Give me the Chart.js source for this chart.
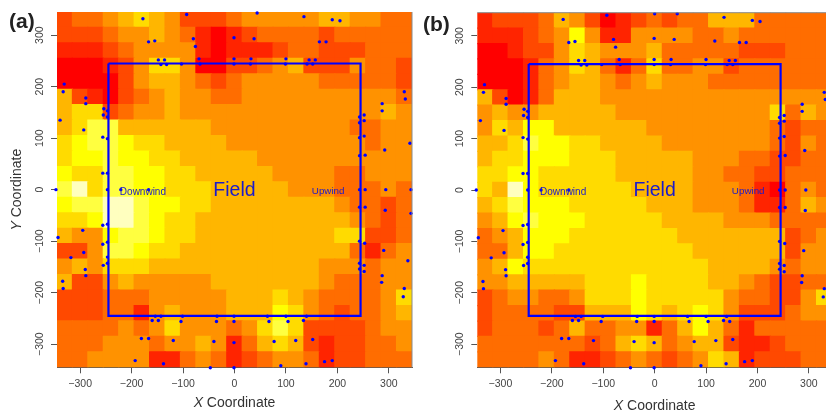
<!DOCTYPE html>
<html>
<head>
<meta charset="utf-8">
<title>Field maps</title>
<script src="https://cdn.jsdelivr.net/npm/chart.js@4/dist/chart.umd.min.js"></script>
<style>
  html, body { margin: 0; padding: 0; background: #fff; width: 826px; height: 411px; overflow: hidden; }
  canvas { position: absolute; top: 0; }
  #panelA { left: 0; }
  #panelB { left: 420px; }
</style>
</head>
<body>
<canvas id="panelA" width="416" height="411"></canvas>
<canvas id="panelB" width="416" height="411"></canvas>
<script>
// heat.colors(10), index = level in the grids below
const heatColors = ['#FF0000', '#FF2400', '#FF4900', '#FF6D00', '#FF9200', '#FFB600', '#FFDB00', '#FFFF00', '#FFFF40', '#FFFFBF'];
const tickValues = [-300, -200, -100, 0, 100, 200, 300];
const colCenters = [-330, -300, -270, -240, -210, -180, -150, -120, -90, -60, -30, 0, 30, 60, 90, 120, 150, 180, 210, 240, 270, 300, 330];
const rowCenters = [330, 300, 270, 240, 210, 180, 150, 120, 90, 60, 30, 0, -30, -60, -90, -120, -150, -180, -210, -240, -270, -300, -330];

const gridA = [
  [2,3,3,4,5,6,5,4,2,2,2,3,4,4,4,4,4,5,5,4,4,3,3],
  [2,2,2,3,4,4,5,4,3,1,0,1,2,3,3,3,3,2,3,3,3,3,3],
  [1,1,1,2,3,4,4,4,4,1,0,1,1,1,2,3,3,2,2,2,3,3,3],
  [0,0,0,1,2,4,6,6,4,0,0,2,2,3,4,5,2,2,2,4,3,3,2],
  [0,0,0,0,2,4,5,5,4,3,2,3,4,4,4,4,4,3,3,3,3,3,2],
  [5,2,1,0,2,3,4,5,4,4,3,3,4,4,4,4,4,4,4,4,4,4,3],
  [5,6,6,2,3,4,4,5,4,4,4,4,4,4,4,4,4,4,4,4,4,5,4],
  [5,6,8,8,5,5,5,5,5,5,4,4,4,4,4,4,4,4,4,3,3,4,4],
  [6,7,8,8,7,6,6,5,5,5,5,4,4,4,4,4,4,4,4,4,3,4,4],
  [6,7,7,8,7,7,6,6,5,5,5,5,5,4,4,4,4,4,4,4,4,4,4],
  [7,6,6,8,8,7,7,6,6,5,5,5,5,5,4,4,4,4,3,3,4,4,4],
  [8,9,6,8,8,7,7,6,6,6,5,5,5,5,5,4,4,4,3,3,3,4,3],
  [7,8,8,9,9,8,7,7,6,6,5,5,5,5,5,5,5,5,4,3,3,2,3],
  [6,6,7,9,9,8,7,6,6,5,5,5,5,5,5,5,5,5,5,4,3,2,3],
  [5,4,4,7,8,8,7,6,6,5,5,5,5,5,5,5,5,5,6,6,2,2,3],
  [2,2,4,8,8,7,6,6,5,5,5,5,5,5,5,5,5,5,5,3,1,3,4],
  [4,5,4,6,6,6,5,5,5,5,5,5,5,5,5,5,5,4,4,4,3,4,4],
  [5,2,2,4,5,4,4,4,4,4,5,5,5,5,5,5,5,4,3,3,3,4,4],
  [2,2,2,3,3,3,4,4,4,4,4,5,5,5,6,5,4,3,3,3,3,4,6],
  [2,2,2,3,3,1,4,5,4,4,4,5,5,5,7,6,4,3,2,3,3,4,5],
  [3,3,3,3,4,3,4,6,4,4,4,3,4,6,8,6,2,2,2,2,3,4,4],
  [3,3,3,4,4,4,3,4,4,5,4,1,3,5,6,5,2,1,2,2,3,3,4],
  [3,3,4,4,4,4,1,1,3,4,3,1,2,3,4,4,3,1,2,2,3,3,3]
];

const gridB = [
  [1,2,2,2,3,5,4,2,0,1,2,3,2,3,3,5,5,5,3,3,3,3,3],
  [1,1,1,2,3,4,7,4,1,1,4,4,4,4,3,3,4,3,3,3,3,3,3],
  [0,0,1,2,2,4,6,5,4,4,4,5,3,3,3,3,3,2,2,2,3,3,3],
  [0,0,0,1,3,4,6,5,3,1,3,6,3,3,4,4,2,3,3,3,3,3,3],
  [0,0,0,1,3,4,5,5,4,3,4,5,4,4,4,3,3,3,3,3,3,3,3],
  [5,2,0,1,3,5,5,5,4,4,4,4,4,4,4,4,4,4,4,4,4,4,4],
  [4,5,4,4,5,5,5,5,5,4,4,4,4,4,4,4,4,4,4,6,3,5,4],
  [4,6,5,7,7,5,5,5,5,5,5,4,4,4,4,4,4,4,4,3,2,3,3],
  [5,5,6,8,7,7,6,6,5,5,5,5,4,4,4,4,4,4,4,3,2,4,3],
  [5,6,6,7,7,7,6,6,6,5,5,5,5,5,4,4,4,3,3,2,2,3,3],
  [6,6,7,7,6,6,6,6,6,5,5,5,5,5,4,4,3,3,2,2,3,3,3],
  [6,5,9,7,6,6,6,6,6,6,5,5,5,5,4,4,4,3,1,0,3,4,3],
  [5,6,8,7,7,7,6,6,6,6,6,5,5,5,4,4,4,3,1,1,3,5,4],
  [4,5,7,8,7,7,7,6,6,6,6,6,5,5,5,5,4,4,4,3,3,3,3],
  [3,4,5,7,7,7,6,6,6,6,6,6,6,5,5,5,5,5,5,5,2,3,4],
  [3,3,5,7,7,6,6,6,6,6,6,6,6,6,5,5,5,5,5,5,2,4,4],
  [4,5,7,6,6,6,6,6,6,6,6,6,6,6,6,5,5,5,5,4,3,4,4],
  [4,4,5,5,5,5,5,6,6,6,7,6,6,6,6,5,5,4,3,2,2,3,3],
  [2,3,4,4,3,3,4,6,6,6,7,6,6,6,6,6,4,3,3,2,2,4,6],
  [2,3,3,3,3,2,2,5,5,5,7,6,5,6,7,6,4,2,2,2,3,4,4],
  [2,3,3,3,2,3,5,3,3,4,4,1,3,5,7,5,3,1,3,3,3,3,3],
  [3,3,3,3,3,3,3,2,3,5,6,5,3,4,5,5,2,1,1,2,3,3,3],
  [3,3,3,3,4,3,1,1,2,3,4,3,2,3,4,6,5,1,2,2,2,3,3]
];

// sampler locations (same ring in both panels)
const sampleX = [-178,-93,44,135,190,205,-167,-155,-80,-76,-1,38,165,178,-148,-136,-69,-1,32,100,145,157,-143,-132,-103,-67,-1,31,99,141,152,
  -331,-333,-289,-289,-339,-293,-254,-247,-255,-247,-256,-247,-256,-247,-347,-247,-221,-167,
  243,252,243,252,243,252,243,254,287,287,330,332,292,341,243,254,294,343,
  -343,-295,-256,-247,243,254,293,343,-256,-247,-293,-318,-247,-255,-247,-290,-289,-334,-333,
  243,253,290,337,243,252,243,252,287,286,330,328,
  -154,-143,-101,-34,-1,64,100,140,-160,-148,-104,-35,-1,67,104,134,
  -181,-167,-119,-40,-1,77,119,152,-193,-138,-47,-1,90,139,175,190];
const sampleY = [332,340,343,336,330,328,287,289,293,278,295,293,287,287,252,252,254,254,254,254,252,252,243,243,244,244,244,244,244,244,244,
  205,190,178,167,135,116,157,153,145,141,102,99,32,32,0,0,0,0,
  141,145,130,134,101,104,66,67,167,153,190,176,77,90,0,0,0,0,
  -93,-79,-69,-67,-34,-34,-40,-46,-106,-102,-122,-132,-131,-147,-143,-155,-167,-178,-192,
  -100,-104,-118,-138,-143,-147,-154,-159,-167,-180,-192,-208,
  -246,-246,-246,-246,-246,-246,-246,-246,-254,-254,-256,-256,-256,-256,-256,-254,
  -289,-289,-293,-295,-297,-295,-293,-291,-332,-338,-346,-346,-342,-338,-334,-332];
// only seen in panel b
const extraXB = [0, 117, 146];
const extraYB = [343, 290, -256];

const fieldX = [-245, 245, 245, -245, -245];
const fieldY = [245, 245, -245, -245, 245];

const notes = [
  { text: 'Field', x: 0, y: -1, size: 19.5 },
  { text: 'Downwind', x: -178, y: -5, size: 10 },
  { text: 'Upwind', x: 182, y: -3, size: 9.8 }
];

const BLUE = '#0000FF';
const FONT = '"Liberation Sans", Arial, sans-serif';

const panelText = {
  id: 'panelText',
  afterDraw(chart, args, opts) {
    const { ctx, scales } = chart;
    ctx.save();
    // frame bits
    ctx.strokeStyle = '#8a8a8a';
    ctx.lineWidth = 1;
    const a = chart.chartArea;
    opts.frame.forEach(side => {
      ctx.beginPath();
      if (side === 'top') { ctx.moveTo(a.left, a.top); ctx.lineTo(a.right, a.top); }
      if (side === 'right') { ctx.moveTo(a.right, a.top); ctx.lineTo(a.right, a.bottom); }
      ctx.stroke();
    });
    // Field / Downwind / Upwind
    ctx.fillStyle = '#1A1ACC';
    ctx.textAlign = 'center';
    ctx.textBaseline = 'middle';
    notes.forEach(n => {
      ctx.font = n.size + 'px ' + FONT;
      ctx.fillText(n.text, scales.x.getPixelForValue(n.x), scales.y.getPixelForValue(n.y));
    });
    // panel letter
    ctx.fillStyle = '#222';
    ctx.textAlign = 'left';
    ctx.font = 'bold 21px ' + FONT;
    ctx.fillText(opts.letter, opts.letterX, opts.letterY);
    // axis titles, X/Y in italics
    const cx = scales.x.getPixelForValue(0);
    ctx.font = 'italic 14px ' + FONT;
    const w1 = ctx.measureText('X').width;
    ctx.font = '14px ' + FONT;
    const w2 = ctx.measureText(' Coordinate').width;
    ctx.textAlign = 'left';
    ctx.fillStyle = '#333';
    ctx.font = 'italic 14px ' + FONT;
    ctx.fillText('X', cx - (w1 + w2) / 2, opts.xTitleY);
    ctx.font = '14px ' + FONT;
    ctx.fillText(' Coordinate', cx - (w1 + w2) / 2 + w1, opts.xTitleY);
    if (opts.yTitle) {
      ctx.translate(opts.yTitleX, scales.y.getPixelForValue(0));
      ctx.rotate(-Math.PI / 2);
      ctx.font = 'italic 14px ' + FONT;
      ctx.fillText('Y', -(w1 + w2) / 2, 0);
      ctx.font = '14px ' + FONT;
      ctx.fillText(' Coordinate', -(w1 + w2) / 2 + w1, 0);
    }
    ctx.restore();
  }
};

function cellsFrom(grid) {
  const cells = [];
  grid.forEach((row, r) => {
    row.forEach((level, c) => {
      cells.push({ x: colCenters[c], y: [rowCenters[r] - 15, rowCenters[r] + 15], level: level });
    });
  });
  return cells;
}

function zip(xs, ys) {
  return xs.map((x, i) => ({ x: x, y: ys[i] }));
}

function axisOpts(size, yAxis) {
  return {
    type: 'linear',
    min: -345,
    max: 345,
    offset: false,
    afterBuildTicks(scale) { scale.ticks = tickValues.map(v => ({ value: v })); },
    afterFit(scale) {
      if (yAxis) scale.width = size; else scale.height = size;
    },
    border: { color: yAxis ? 'rgba(0,0,0,0)' : '#555' },
    grid: { offset: false, drawOnChartArea: false, color: '#555', tickLength: 6, tickWidth: 1 },
    ticks: {
      color: '#444',
      font: { family: FONT, size: 10.5 },
      padding: yAxis ? -1 : 5,
      autoSkip: false,
      minRotation: yAxis ? 90 : 0,
      maxRotation: yAxis ? 90 : 0,
      crossAlign: yAxis ? 'center' : 'near',
      callback: v => String(v).replace('-', '\u2212')
    }
  };
}

function makePanel(id, grid, points, cfg) {
  new Chart(document.getElementById(id), {
    type: 'bar',
    data: {
      datasets: [
        {
          type: 'line',
          data: zip(fieldX, fieldY),
          borderColor: BLUE,
          borderWidth: 2.2,
          pointRadius: 0,
          tension: 0,
          fill: false,
          order: 1
        },
        {
          type: 'scatter',
          data: points,
          backgroundColor: BLUE,
          borderWidth: 0,
          pointRadius: 1.7,
          clip: false,
          order: 2
        },
        {
          type: 'bar',
          data: cellsFrom(grid),
          backgroundColor: c => heatColors[c.raw ? c.raw.level : 0],
          borderWidth: 0,
          barPercentage: 1,
          categoryPercentage: 1,
          inflateAmount: 0.6,
          order: 3
        }
      ]
    },
    options: {
      responsive: false,
      animation: false,
      events: [],
      layout: { padding: { left: 0, top: cfg.top, right: cfg.right, bottom: 0 } },
      scales: { x: axisOpts(cfg.xAxisH, false), y: axisOpts(cfg.yAxisW, true) },
      plugins: {
        legend: { display: false },
        tooltip: { enabled: false },
        panelText: cfg.text
      }
    },
    plugins: [panelText]
  });
}

makePanel('panelA', gridA, zip(sampleX, sampleY), {
  top: 12, right: 3.3, xAxisH: 43.7, yAxisW: 57,
  text: { letter: '(a)', letterX: 9, letterY: 22, xTitleY: 403, yTitle: true, yTitleX: 17, frame: ['right'] }
});

makePanel('panelB', gridB, zip(sampleX.concat(extraXB), sampleY.concat(extraYB)), {
  top: 12.7, right: 3, xAxisH: 43.7, yAxisW: 57.3,
  text: { letter: '(b)', letterX: 3, letterY: 25, xTitleY: 406, yTitle: false, yTitleX: 0, frame: ['top'] }
});
</script>
</body>
</html>
